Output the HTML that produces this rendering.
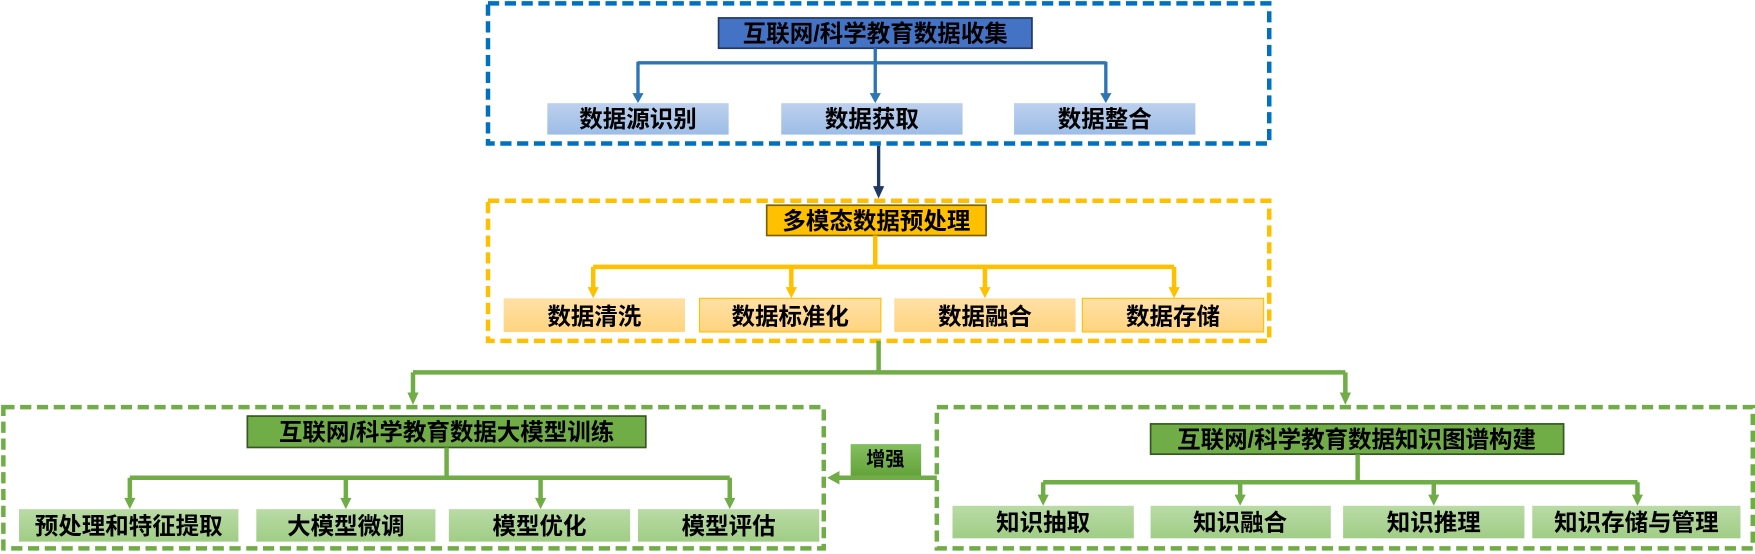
<!DOCTYPE html>
<html><head><meta charset="utf-8"><style>
html,body{margin:0;padding:0;background:#fff;}
svg{display:block;}
text{font-family:"Liberation Sans","Noto Sans CJK SC",sans-serif;font-weight:bold;fill:#000;text-anchor:middle;dominant-baseline:central;}
</style></head><body>
<svg width="1755" height="554" viewBox="0 0 1568 494" preserveAspectRatio="none" xmlns="http://www.w3.org/2000/svg">
<defs>
<linearGradient id="gb" x1="0" y1="0" x2="0" y2="1"><stop offset="0" stop-color="#bdd0ee"/><stop offset="1" stop-color="#9dbde6"/></linearGradient>
<linearGradient id="gy" x1="0" y1="0" x2="0" y2="1"><stop offset="0" stop-color="#ffe0a6"/><stop offset="1" stop-color="#ffd47f"/></linearGradient>
<linearGradient id="gg" x1="0" y1="0" x2="0" y2="1"><stop offset="0" stop-color="#b9dba5"/><stop offset="1" stop-color="#a0cd86"/></linearGradient>
<linearGradient id="gG" x1="0" y1="0" x2="0" y2="1"><stop offset="0" stop-color="#84bf5f"/><stop offset="1" stop-color="#63a23a"/></linearGradient>
</defs>

<!-- Blue section -->
<rect x="436" y="3" width="698" height="125" fill="none" stroke="#0070c0" stroke-width="4" stroke-dasharray="10,5"/>
<rect x="642" y="16" width="280" height="27" fill="#4472c4" stroke="#203864" stroke-width="1.5"/>
<text x="782" y="30" font-size="21">互联网/科学教育数据收集</text>
<g stroke="#2e75b6" stroke-width="3" fill="none">
<path d="M782,43 V56 M570,56 H988 M570,55 V84 M782,56 V84 M988,55 V84"/>
</g>
<g fill="#2e75b6"><path d="M565,83 h10 l-5,9z"/><path d="M777,83 h10 l-5,9z"/><path d="M983,83 h10 l-5,9z"/></g>
<rect x="489" y="92" width="162" height="28" fill="url(#gb)"/>
<rect x="698" y="92" width="162" height="28" fill="url(#gb)"/>
<rect x="906" y="92" width="162" height="28" fill="url(#gb)"/>
<text x="570" y="106" font-size="21">数据源识别</text>
<text x="779" y="106" font-size="21">数据获取</text>
<text x="987" y="106" font-size="21">数据整合</text>

<path d="M785,130 V168" stroke="#1f3864" stroke-width="3"/>
<path d="M780,166 h10 l-5,11z" fill="#1f3864"/>

<!-- Yellow section -->
<rect x="436" y="179" width="698" height="125" fill="none" stroke="#ffc000" stroke-width="4" stroke-dasharray="10,5"/>
<rect x="685" y="183" width="196" height="27" fill="#ffc000" stroke="#7f6000" stroke-width="1.5"/>
<text x="783" y="197" font-size="21">多模态数据预处理</text>
<g stroke="#ffc000" stroke-width="4" fill="none">
<path d="M782,210 V238 M530,238 H1049 M530,238 V258 M707,238 V258 M880,238 V258 M1049,238 V258"/>
</g>
<g fill="#ffc000"><path d="M525,256 h10 l-5,10z"/><path d="M702,256 h10 l-5,10z"/><path d="M875,256 h10 l-5,10z"/><path d="M1044,256 h10 l-5,10z"/></g>
<rect x="450" y="266" width="162" height="30" fill="url(#gy)"/>
<rect x="625" y="266" width="162" height="30" fill="url(#gy)" stroke="#ffc000" stroke-width="1"/>
<rect x="799" y="266" width="162" height="30" fill="url(#gy)"/>
<rect x="967" y="266" width="162" height="30" fill="url(#gy)" stroke="#ffc000" stroke-width="1"/>
<text x="531" y="282" font-size="21">数据清洗</text>
<text x="706" y="282" font-size="21">数据标准化</text>
<text x="880" y="282" font-size="21">数据融合</text>
<text x="1048" y="282" font-size="21">数据存储</text>

<!-- Green connector -->
<g stroke="#70ad47" stroke-width="4" fill="none">
<path d="M785,304 V332 M369,332 H1202 M369,332 V352 M1202,332 V352"/>
</g>
<g fill="#70ad47"><path d="M364,350 h10 l-5,11z"/><path d="M1197,350 h10 l-5,11z"/></g>

<!-- Left green -->
<rect x="3" y="363" width="733" height="126" fill="none" stroke="#70ad47" stroke-width="4" stroke-dasharray="10,5"/>
<rect x="221" y="371" width="356" height="28" fill="#70ad47" stroke="#375623" stroke-width="1.5"/>
<text x="399" y="385" font-size="21">互联网/科学教育数据大模型训练</text>
<g stroke="#70ad47" stroke-width="4" fill="none">
<path d="M399,399 V426 M116,426 H652 M116,426 V446 M309,426 V446 M483,426 V446 M652,426 V446"/>
</g>
<g fill="#70ad47"><path d="M111,444 h10 l-5,10z"/><path d="M304,444 h10 l-5,10z"/><path d="M478,444 h10 l-5,10z"/><path d="M647,444 h10 l-5,10z"/></g>
<rect x="17" y="454" width="196" height="29" fill="url(#gg)"/>
<rect x="229" y="454" width="160" height="29" fill="url(#gg)"/>
<rect x="401" y="454" width="162" height="29" fill="url(#gg)"/>
<rect x="570" y="454" width="162" height="29" fill="url(#gg)"/>
<text x="115" y="469" font-size="21">预处理和特征提取</text>
<text x="309" y="469" font-size="21">大模型微调</text>
<text x="482" y="469" font-size="21">模型优化</text>
<text x="651" y="469" font-size="21">模型评估</text>

<!-- Enhance -->
<rect x="760" y="396" width="63" height="29" fill="url(#gG)"/>
<text x="791" y="410" font-size="17">增强</text>
<path d="M837,426 H748" stroke="#70ad47" stroke-width="4"/>
<path d="M750,420 v12 l-11,-6z" fill="#70ad47"/>

<!-- Right green -->
<rect x="837" y="363" width="729" height="126" fill="none" stroke="#70ad47" stroke-width="4" stroke-dasharray="10,5"/>
<rect x="1028" y="378" width="369" height="27" fill="#70ad47" stroke="#375623" stroke-width="1.5"/>
<text x="1212" y="392" font-size="21">互联网/科学教育数据知识图谱构建</text>
<g stroke="#70ad47" stroke-width="4" fill="none">
<path d="M1213,405 V430 M932,430 H1463 M932,430 V443 M1108,430 V443 M1281,430 V443 M1463,430 V443"/>
</g>
<g fill="#70ad47"><path d="M927,441 h10 l-5,10z"/><path d="M1103,441 h10 l-5,10z"/><path d="M1276,441 h10 l-5,10z"/><path d="M1458,441 h10 l-5,10z"/></g>
<rect x="851" y="451" width="162" height="29" fill="url(#gg)"/>
<rect x="1028" y="451" width="161" height="29" fill="url(#gg)"/>
<rect x="1200" y="451" width="162" height="29" fill="url(#gg)"/>
<rect x="1369" y="451" width="186" height="29" fill="url(#gg)"/>
<text x="932" y="466" font-size="21">知识抽取</text>
<text x="1108" y="466" font-size="21">知识融合</text>
<text x="1281" y="466" font-size="21">知识推理</text>
<text x="1462" y="466" font-size="21">知识存储与管理</text>
</svg>
</body></html>
